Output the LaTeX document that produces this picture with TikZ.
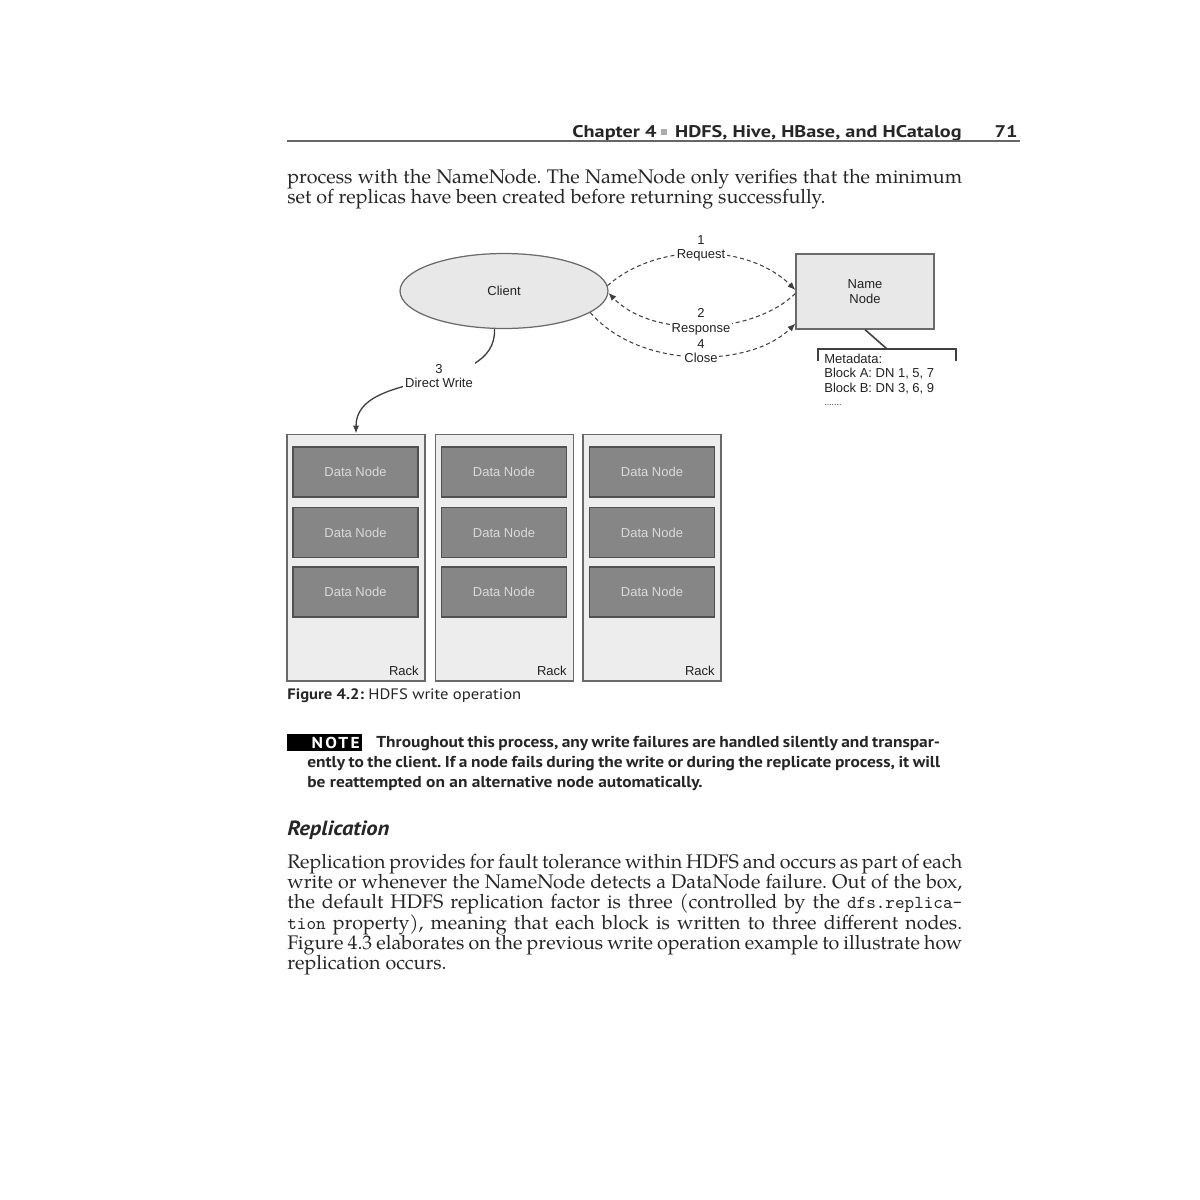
\documentclass[tikz,border=0pt]{standalone}
\usepackage{fontspec}
\setmainfont{TeX Gyre Pagella}
\newfontfamily\hel{Liberation Sans}
\newfontfamily\myr[FakeStretch=1.1]{PT Sans}
\newfontfamily\myrw[FakeStretch=1.2]{PT Sans}
\usetikzlibrary{arrows.meta,shapes.geometric}
\definecolor{txt}{HTML}{262626}
\definecolor{dtxt}{HTML}{222222}
\definecolor{lfill}{HTML}{E8E8E8}
\definecolor{rfill}{HTML}{EDEDED}
\definecolor{dnfill}{HTML}{868686}
\definecolor{dnbord}{HTML}{505050}
\definecolor{bord}{HTML}{6A6A6A}
\definecolor{dntxt}{HTML}{DADADA}
\definecolor{lnc}{HTML}{404040}
\newcommand\JustLine[2]{\makebox[#1][s]{#2}}
\frenchspacing
\begin{document}
\begin{tikzpicture}[x=0.02cm,y=-0.02cm,
  body/.style={anchor=base west,inner sep=0,text=txt,font=\frenchspacing\fontsize{11.2}{13}\selectfont},
  note/.style={anchor=base west,inner sep=0,text=txt,font=\frenchspacing\myr\bfseries\fontsize{9}{10}\selectfont},
  diag/.style={text=dtxt,font=\hel\fontsize{7.4}{8.2}\selectfont},
  lbl/.style={diag,fill=white,inner sep=1pt,align=center},
  rackbox/.style={draw=bord,fill=rfill,line width=0.6pt,minimum width=2.76cm,minimum height=4.94cm,inner sep=0},
  dnbox/.style={draw=dnbord,fill=dnfill,line width=0.7pt,minimum width=2.5cm,minimum height=1.0cm,inner sep=0,text=dntxt,font=\hel\fontsize{7.4}{8.2}\selectfont},
  racklbl/.style={diag,anchor=base east,inner sep=0},
  hdr/.style={anchor=base east,inner sep=0,text=txt,font=\myrw\bfseries\fontsize{9.6}{11}\selectfont},
  dashedarrow/.style={lnc,line width=0.6pt,dash pattern=on 2.3pt off 1.7pt,-{Latex[length=4.5pt,width=3.6pt]}},
  solidarrow/.style={lnc,line width=0.75pt,-{Latex[length=4.5pt,width=3.6pt]}}]
\fill[white] (0,0) rectangle (1200,1200);
\useasboundingbox (0,0) rectangle (1200,1200);

% ---------- header ----------
\node[hdr] (hdrtxt) at (962,137) {HDFS, Hive, HBase, and HCatalog};
\node[hdr] (chap) at (657,137) {Chapter 4};
\node[fill=gray!65,minimum size=0.12cm,inner sep=0] (sq) at (664,132) {};
\node[hdr] (pg) at (1018,137) {71};
\draw[line width=0.6pt,gray!80!black] (287,141) -- (1020,141);

% ---------- first paragraph ----------
\node[body] (p1a) at (287,183) {\JustLine{13.5cm}{process with the NameNode. The NameNode only verifies that the minimum}};
\node[body] (p1b) at (287,203) {set of replicas have been created before returning successfully.};

% ---------- diagram ----------
\node[ellipse,draw=bord,fill=lfill,line width=0.7pt,minimum width=4.16cm,minimum height=1.5cm,inner sep=0,diag] (client) at (504,291) {Client};
\node[draw=bord,fill=lfill,line width=0.7pt,minimum width=2.76cm,minimum height=1.5cm,inner sep=0,diag,align=center] (nn) at (865,291.5) {Name\\Node};

\draw[dashedarrow] (client.3) .. controls (660,240) and (750,245) .. ([yshift=0.03cm]nn.west);
\draw[dashedarrow] ([yshift=-0.04cm]nn.west) .. controls (750,337) and (650,337) .. (client.-1);
\draw[dashedarrow] (client.-14) .. controls (640,370) and (750,368) .. ([yshift=0.12cm]nn.south west);
\node[lbl] (l1) at (701,248.5) {1\\Request};
\node[lbl] (l2) at (701,322) {2\\Response};
\node[lbl] (l4) at (701,351) {4\\Close};

% metadata bracket
\coordinate (br) at (887,349);
\draw[lnc,line width=0.9pt] (nn.south) -- (br);
\draw[lnc,line width=0.9pt] (818,361) |- (956,349) -- (956,361);
\node[diag,anchor=north west,inner sep=0,align=left,font=\hel\fontsize{7.4}{8.3}\selectfont] (meta) at (824,353.5) {Metadata:\\Block A: DN 1, 5, 7\\Block B: DN 3, 6, 9\\[-1pt]{\fontsize{5}{6}\selectfont .......}};

% racks
\node[rackbox] (r1) at (356,557.5) {};
\node[rackbox] (r2) at (504.5,557.5) {};
\node[rackbox] (r3) at (652,557.5) {};
\foreach \r/\x in {1/355.5,2/504,3/652}{
  \node[dnbox] (d\r a) at (\x,472) {Data Node};
  \node[dnbox] (d\r b) at (\x,532.5) {Data Node};
  \node[dnbox] (d\r c) at (\x,592) {Data Node};
}
\node[racklbl] (rl1) at (419,675) {Rack};
\node[racklbl] (rl2) at (567,675) {Rack};
\node[racklbl] (rl3) at (715,675) {Rack};

% direct write
\draw[solidarrow] (client.256) .. controls (497,395) and (356,368) .. (r1.north);
\node[lbl] (l3) at (439,376) {3\\Direct Write};

% caption
\node[anchor=base west,inner sep=0,text=txt,font=\myr\fontsize{8.6}{10}\selectfont] (cap) at (287,699) {\textbf{Figure 4.2:} HDFS write operation};

% ---------- note ----------
\node[fill=black,minimum width=1.5cm,minimum height=0.34cm,inner sep=0] (nbox) at (324.5,742.5) {};
\node[anchor=base east,inner sep=0,text=white,font=\myr\bfseries\fontsize{9}{10}\selectfont] (ntag) at (360,748) {\addfontfeature{LetterSpace=14}NOTE};
\node[note] (n1) at (376,747) {\JustLine{11.28cm}{Throughout this process, any write failures are handled silently and transpar-}};
\node[note] (n2) at (307,767) {\JustLine{12.66cm}{ently to the client. If a node fails during the write or during the replicate process, it will}};
\node[note] (n3) at (307,787) {be reattempted on an alternative node automatically.};

% ---------- replication ----------
\node[anchor=base west,inner sep=0,text=txt,font=\myr\bfseries\itshape\fontsize{11.7}{13}\selectfont] (rh) at (287,835) {Replication};
\node[body] (q1) at (287,868) {\JustLine{13.5cm}{Replication provides for fault tolerance within HDFS and occurs as part of each}};
\node[body] (q2) at (287,888) {\JustLine{13.5cm}{write or whenever the NameNode detects a DataNode failure. Out of the box,}};
\node[body] (q3) at (287,908) {\JustLine{13.5cm}{the default HDFS replication factor is three (controlled by the {\ttfamily\fontsize{10.4}{12}\selectfont dfs.replica-}}};
\node[body] (q4) at (287,929) {\JustLine{13.5cm}{{\ttfamily\fontsize{10.4}{12}\selectfont tion} property), meaning that each block is written to three different nodes.}};
\node[body] (q5) at (287,949) {\JustLine{13.5cm}{Figure 4.3 elaborates on the previous write operation example to illustrate how}};
\node[body] (q6) at (287,969) {replication occurs.};
\end{tikzpicture}
\end{document}
